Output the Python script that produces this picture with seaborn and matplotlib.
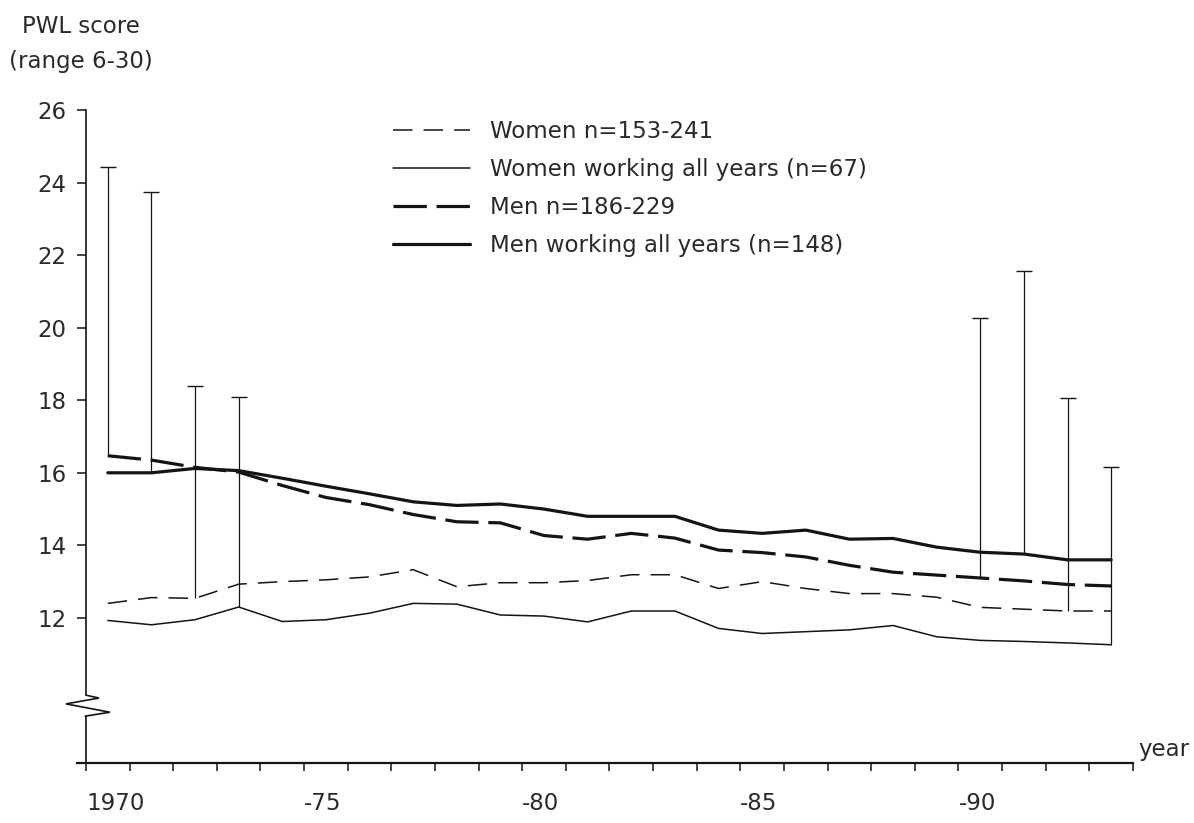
import numpy as np
import pandas as pd
import matplotlib
matplotlib.use("Agg")
import matplotlib.pyplot as plt
import seaborn as sns

# ---------------- data ----------------
years = list(range(1970, 1994))

women = [12.40, 12.56, 12.54, 12.93, 13.00, 13.05, 13.13, 13.33, 12.86, 12.97,
         12.97, 13.03, 13.19, 13.19, 12.81, 13.00, 12.81, 12.67, 12.67, 12.57,
         12.29, 12.24, 12.19, 12.19]
women_working = [11.93, 11.81, 11.95, 12.30, 11.90, 11.95, 12.13, 12.40, 12.38, 12.08,
                 12.05, 11.89, 12.19, 12.19, 11.71, 11.57, 11.62, 11.67, 11.79, 11.48,
                 11.38, 11.35, 11.31, 11.26]
men = [16.47, 16.35, 16.15, 16.02, 15.65, 15.32, 15.12, 14.85, 14.65, 14.62,
       14.27, 14.17, 14.33, 14.20, 13.87, 13.80, 13.68, 13.45, 13.26, 13.18,
       13.10, 13.02, 12.92, 12.88]
men_working = [16.00, 16.00, 16.12, 16.06, 15.85, 15.63, 15.42, 15.20, 15.10, 15.14,
               15.00, 14.80, 14.80, 14.80, 14.42, 14.33, 14.42, 14.17, 14.19, 13.95,
               13.81, 13.76, 13.60, 13.60]

series_labels = ["Women n=153-241",
                 "Women working all years (n=67)",
                 "Men n=186-229",
                 "Men working all years (n=148)"]

# upper error bars (year, series index, upper value)
err_years = [1970, 1971, 1972, 1973, 1990, 1991, 1992, 1993]
err_series = [2, 3, 0, 1, 2, 3, 0, 1]
err_upper = [24.42, 23.75, 18.40, 18.10, 20.27, 21.56, 18.05, 16.15]

x_ticks = list(range(1970, 1995))
x_tick_labels = ["1970", "", "", "", "", "-75", "", "", "", "", "-80", "", "", "", "",
                 "-85", "", "", "", "", "-90", "", "", "", ""]
y_ticks = [12, 14, 16, 18, 20, 22, 24, 26]
y_tick_labels = ["12", "14", "16", "18", "20", "22", "24", "26"]

# ---------------- style ----------------
sns.set_theme(style="white")
plt.rcParams["font.family"] = ["DejaVu Sans"]
plt.rcParams["lines.scale_dashes"] = False
INK = "#141414"
TXT = "#2a2a2a"
FS = 16.5

fig = plt.figure(figsize=(11.94, 8.23), dpi=100)
ax = fig.add_axes([0.0647, 0.0729, 0.8842, 0.7934])
ax.set_xlim(1969.8, 1994)
ax.set_ylim(8, 26)

all_series = [women, women_working, men, men_working]
styles = [
    dict(linewidth=1.1, linestyle=(0, (14, 8))),
    dict(linewidth=1.1, linestyle="-"),
    dict(linewidth=2.3, linestyle=(0, (24, 7))),
    dict(linewidth=2.3, linestyle="-"),
]

xpos = np.array(years) + 0.5  # values plotted at mid-year
for vals, lab, st in zip(all_series, series_labels, styles):
    df = pd.DataFrame({"x": xpos, "score": vals})
    sns.lineplot(data=df, x="x", y="score", ax=ax, color=INK, label=lab,
                 estimator=None, sort=False, **st)

# error bars (upper only, with cap)
ex = np.array(err_years) + 0.5
base = np.array([all_series[s][years.index(y)] for y, s in zip(err_years, err_series)])
up = np.array(err_upper)
ax.errorbar(ex, base, yerr=[np.zeros_like(up), up - base], fmt="none",
            ecolor=INK, elinewidth=0.9, capsize=0)
ax.plot(ex, up, linestyle="none", marker="_", markersize=11.5,
        markeredgewidth=1.0, color=INK)

# ---------------- axes ----------------
for s in ["top", "right"]:
    ax.spines[s].set_visible(False)
ax.spines["left"].set_position(("data", 1970))
ax.spines["left"].set_bounds(9.87, 26)
ax.spines["left"].set_linewidth(1.2)
ax.spines["left"].set_color(INK)
ax.spines["bottom"].set_linewidth(1.6)
ax.spines["bottom"].set_color(INK)

# axis break on y axis
d = 1 / 43.6
brk_x = [1970, 1970, 1970 + 13 * d, 1970 - 20 * d, 1970 + 24 * d, 1970 - 1 * d, 1970, 1970]
brk_y = [9.87, 9.87, 9.79, 9.63, 9.40, 9.29, 9.27, 8.0]
ax.plot(brk_x, brk_y, color=INK, linewidth=1.2, clip_on=False,
        solid_joinstyle="miter")

ax.xaxis.set_ticks_position("bottom")
ax.yaxis.set_ticks_position("left")
ax.set_xticks(x_ticks, x_tick_labels)
ax.set_yticks(y_ticks, y_tick_labels)
for lab in ax.get_xticklabels():
    lab.set_ha("left")
ax.tick_params(axis="x", direction="out", length=5.8, width=1.1, pad=15,
               labelsize=FS, colors=INK, labelcolor=TXT)
ax.tick_params(axis="y", direction="out", length=6.5, width=1.1, pad=7.5,
               labelsize=FS, colors=INK, labelcolor=TXT)
ax.set_xlabel("")
ax.set_ylabel("")
ax.grid(False)

ax.annotate("year", xy=(1994, 8), xytext=(4, 5), textcoords="offset points",
            ha="left", va="baseline", fontsize=FS, color=TXT, annotation_clip=False)

fig.text(81 / 1194, 1 - 33 / 823, "PWL score", ha="center", va="baseline",
         fontsize=FS, color=TXT)
fig.text(81 / 1194, 1 - 68 / 823, "(range 6-30)", ha="center", va="baseline",
         fontsize=FS, color=TXT)

handles, labels = ax.get_legend_handles_labels()
ax.legend(handles[:4], labels[:4], loc="upper left",
          bbox_to_anchor=(393 / 1194, 1 - 120 / 823), bbox_transform=fig.transFigure,
          frameon=False, borderpad=0, borderaxespad=0, handlelength=3.36,
          handletextpad=0.87, labelspacing=0.66, fontsize=FS, labelcolor=TXT)

fig.savefig("out.png", dpi=100, facecolor="white")
